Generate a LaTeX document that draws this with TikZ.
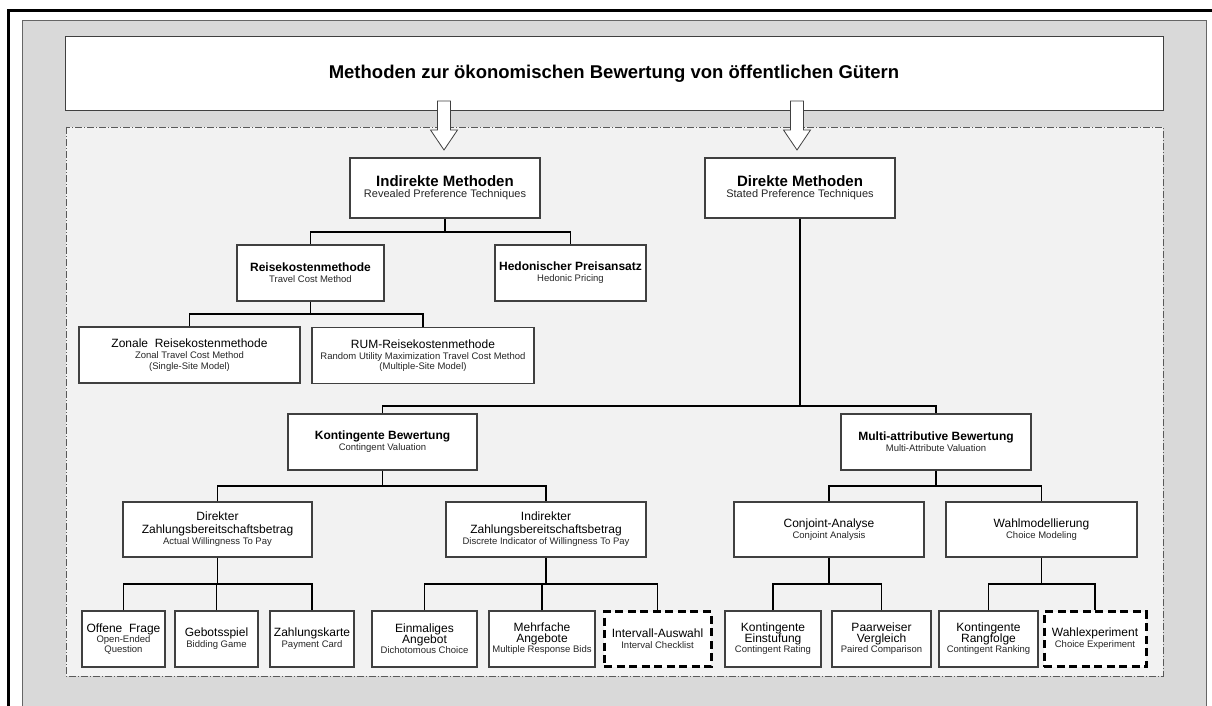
\documentclass[tikz,border=0pt]{standalone}
\usepackage{fontspec}
\setmainfont{Liberation Sans}
\definecolor{panel}{HTML}{D9D9D9}
\definecolor{innerbg}{HTML}{F2F2F2}
\definecolor{edge}{HTML}{404040}
\definecolor{subcol}{HTML}{262626}
\newcommand\mysub[1]{{\fontsize{9.5}{11}\selectfont\color{subcol}#1}}
\newcommand\myarrow[1]{\draw[edge, line width=0.8pt, fill=white] (#1-6.5,101) -- (#1+6.5,101) -- (#1+6.5,130) -- (#1+13.5,130) -- (#1,150) -- (#1-13.5,130) -- (#1-6.5,130) -- cycle;}
\tikzset{
  box/.style={draw=edge, line width=1.1pt, fill=white, inner sep=1pt, align=center, font=\fontsize{12}{13}\selectfont},
  dbox/.style={box, draw=black, line width=3pt, dash pattern=on 8pt off 4.5pt},
  conn/.style={draw=black, line width=1.2pt},
  stem/.style={draw=black, line width=1.6pt},
}
\begin{document}
\begin{tikzpicture}[x=1pt,y=-1pt]
\useasboundingbox (0,0) rectangle (1212,706);
\clip (0,0) rectangle (1212,706);
% frames
\draw[black, line width=3pt] (8,10.5) rectangle (1260,760);
\draw[fill=panel, draw=black!60, line width=0.9pt] (22,20) rectangle (1206,760);
\draw[fill=innerbg, draw=black!65, line width=0.8pt, dash pattern=on 7pt off 2pt on 1pt off 2pt] (66,127) rectangle (1163,676);
% title
\node[draw=edge, line width=1pt, fill=white, minimum width=1098pt, minimum height=74pt, font=\fontsize{18.5}{20}\selectfont\bfseries] (title) at (614,74) {Methoden zur ökonomischen Bewertung von öffentlichen Gütern};
\myarrow{444}
\myarrow{797}
% level 1
\node[box, minimum width=190pt, minimum height=60pt] (ind) at (445,188) {{\fontsize{15}{15}\selectfont\bfseries Indirekte Methoden}\\[-2pt]{\fontsize{11}{12}\selectfont\color{subcol}Revealed Preference Techniques}};
\node[box, minimum width=190pt, minimum height=60pt] (dir) at (800,188) {{\fontsize{15}{15}\selectfont\bfseries Direkte Methoden}\\[-2pt]{\fontsize{11}{12}\selectfont\color{subcol}Stated Preference Techniques}};
% level 2 indirect
\node[box, minimum width=147pt, minimum height=56pt] (rk) at (310.5,273) {\textbf{Reisekostenmethode}\\[-2pt]\mysub{Travel Cost Method}};
\node[box, minimum width=151pt, minimum height=56pt] (hp) at (570.5,273) {\textbf{Hedonischer Preisansatz}\\[-2pt]\mysub{Hedonic Pricing}};
\node[box, minimum width=221pt, minimum height=56pt] (zr) at (189.5,355) {Zonale\ \ Reisekostenmethode\\[-2pt]\mysub{Zonal Travel Cost Method}\\[-2.5pt]\mysub{(Single-Site Model)}};
\node[box, minimum width=222pt, minimum height=56pt] (rum) at (423,355.5) {RUM-Reisekostenmethode\\[-2pt]\mysub{Random Utility Maximization Travel Cost Method}\\[-2.5pt]\mysub{(Multiple-Site Model)}};
% level 2 direct
\node[box, minimum width=189pt, minimum height=56pt] (kb) at (382.5,442) {\textbf{Kontingente Bewertung}\\[-2pt]\mysub{Contingent Valuation}};
\node[box, minimum width=190pt, minimum height=56pt] (ma) at (936,442) {\textbf{Multi-attributive Bewertung}\\[-2pt]\mysub{Multi-Attribute Valuation}};
% level 3
\node[box, minimum width=189pt, minimum height=55pt] (dz) at (217.5,529.5) {Direkter\\Zahlungsbereitschaftsbetrag\\[-2pt]\mysub{Actual Willingness To Pay}};
\node[box, minimum width=200pt, minimum height=55pt] (iz) at (546,529.5) {Indirekter\\Zahlungsbereitschaftsbetrag\\[-2pt]\mysub{Discrete Indicator of Willingness To Pay}};
\node[box, minimum width=190pt, minimum height=55pt] (ca) at (829,529.5) {Conjoint-Analyse\\[-2pt]\mysub{Conjoint Analysis}};
\node[box, minimum width=191pt, minimum height=55pt] (wm) at (1041.5,529.5) {Wahlmodellierung\\[-2pt]\mysub{Choice Modeling}};
% level 4
\node[box, minimum width=83pt, minimum height=56pt] (of) at (123.5,639) {Offene\ \ Frage\\[-2.5pt]\mysub{Open-Ended}\\[-3pt]\mysub{Question}};
\node[box, minimum width=83pt, minimum height=56pt] (gs) at (216.5,639) {Gebotsspiel\\[-2pt]\mysub{Bidding Game}};
\node[box, minimum width=84pt, minimum height=56pt] (zk) at (312,639) {Zahlungskarte\\[-2pt]\mysub{Payment Card}};
\node[box, minimum width=105pt, minimum height=56pt] (ea) at (424.5,639) {Einmaliges\\[-2.5pt]Angebot\\[-2.5pt]\mysub{Dichotomous Choice}};
\node[box, minimum width=106pt, minimum height=56pt] (mf) at (542,639) {Mehrfache\\[-2.5pt]Angebote\\[-2.5pt]\mysub{Multiple Response Bids}};
\node[dbox, minimum width=107pt, minimum height=55pt] (ia) at (657.5,639) {Intervall-Auswahl\\[-2pt]\mysub{Interval Checklist}};
\node[box, minimum width=96pt, minimum height=56pt] (ke) at (773,639) {Kontingente\\[-2.5pt]Einstufung\\[-2.5pt]\mysub{Contingent Rating}};
\node[box, minimum width=99pt, minimum height=56pt] (pv) at (881.5,639) {Paarweiser\\[-2.5pt]Vergleich\\[-2.5pt]\mysub{Paired Comparison}};
\node[box, minimum width=99pt, minimum height=56pt] (kr) at (988.5,639) {Kontingente\\[-2.5pt]Rangfolge\\[-2.5pt]\mysub{Contingent Ranking}};
\node[dbox, minimum width=102pt, minimum height=55pt] (we) at (1095,639) {Wahlexperiment\\[-2pt]\mysub{Choice Experiment}};
% bus coordinates
\coordinate (bind) at (0,232);
\coordinate (brk) at (0,314);
\coordinate (bdir) at (0,406);
\coordinate (bkb) at (0,486);
\coordinate (bl) at (0,584);
% connectors
\draw[stem] (ind.south) -- (ind.south |- bind);
\draw[conn] (rk.north) |- (hp.north |- bind) -- (hp.north);
\draw[stem] (rk.south) -- (rk.south |- brk);
\draw[conn] (zr.north) |- (rum.north |- brk) -- (rum.north);
\draw[stem] (dir.south) -- (dir.south |- bdir);
\draw[conn] (kb.north) |- (ma.north |- bdir) -- (ma.north);
\draw[stem] (kb.south) -- (kb.south |- bkb);
\draw[conn] (dz.north) |- (iz.north |- bkb) -- (iz.north);
\draw[stem] (ma.south) -- (ma.south |- bkb);
\draw[conn] (ca.north) |- (wm.north |- bkb) -- (wm.north);
\draw[stem] (dz.south) -- (dz.south |- bl);
\draw[conn] (of.north) |- (zk.north |- bl) -- (zk.north);
\draw[conn] (gs.north) -- (gs.north |- bl);
\draw[stem] (iz.south) -- (iz.south |- bl);
\draw[conn] (ea.north) |- (ia.north |- bl) -- (ia.north);
\draw[conn] (mf.north) -- (mf.north |- bl);
\draw[stem] (ca.south) -- (ca.south |- bl);
\draw[conn] (ke.north) |- (pv.north |- bl) -- (pv.north);
\draw[stem] (wm.south) -- (wm.south |- bl);
\draw[conn] (kr.north) |- (we.north |- bl) -- (we.north);
\end{tikzpicture}
\end{document}
